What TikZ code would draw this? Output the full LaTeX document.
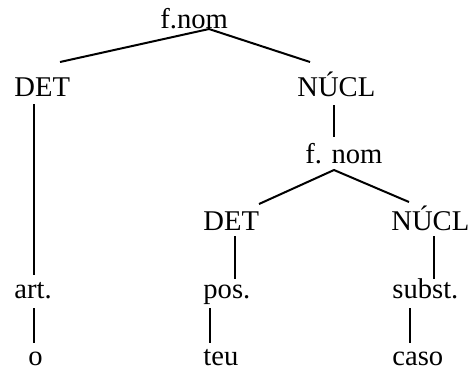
\documentclass[tikz,border=0pt]{standalone}
\usepackage{fontspec}
\setmainfont{Liberation Serif}
\begin{document}
\begin{tikzpicture}[x=0.5pt,y=-0.5pt,
  lbl/.style={anchor=base west,inner sep=0pt,font=\fontsize{14.3}{17}\selectfont},
  edge/.style={line width=1pt}]
\useasboundingbox (0,0) rectangle (469,371);
% labels
\node[lbl] (fnom) at (160,28) {f.nom};
\node[lbl] (det1) at (14,96) {DET};
\node[lbl] (nucl1) at (297,96) {NÚCL};
\node[lbl] (fnom2) at (305,163) {f. nom};
\node[lbl] (det2) at (203,230) {DET};
\node[lbl] (nucl2) at (391,230) {NÚCL};
\node[lbl] (art) at (14,298) {art.};
\node[lbl] (pos) at (203,298) {pos.};
\node[lbl] (subst) at (392,298) {subst.};
\node[lbl] (o) at (28,365) {o};
\node[lbl] (teu) at (203,365) {teu};
\node[lbl] (caso) at (392,365) {caso};
% connector endpoints
\coordinate (fnomB) at (209,29);
\coordinate (det1T) at (60,62);
\coordinate (nucl1T) at (310,62);
\coordinate (det1B) at (34,104);
\coordinate (artT) at (34,275);
\coordinate (nucl1B) at (334,105);
\coordinate (fnom2T) at (334,137);
\coordinate (fnom2B) at (334,170);
\coordinate (det2T) at (259,204);
\coordinate (nucl2T) at (409,202);
\coordinate (det2B) at (235,236);
\coordinate (posT) at (235,279);
\coordinate (nucl2B) at (434,236);
\coordinate (substT) at (434,279);
\coordinate (artB) at (34,308);
\coordinate (oT) at (34,343);
\coordinate (posB) at (210,308);
\coordinate (teuT) at (210,343);
\coordinate (substB) at (410,308);
\coordinate (casoT) at (410,343);
% connectors
\draw[edge] (det1T) -- (fnomB) -- (nucl1T);
\draw[edge] (det1B) -- (artT);
\draw[edge] (nucl1B) -- (fnom2T);
\draw[edge] (det2T) -- (fnom2B) -- (nucl2T);
\draw[edge] (det2B) -- (posT);
\draw[edge] (nucl2B) -- (substT);
\draw[edge] (artB) -- (oT);
\draw[edge] (posB) -- (teuT);
\draw[edge] (substB) -- (casoT);
\end{tikzpicture}
\end{document}
